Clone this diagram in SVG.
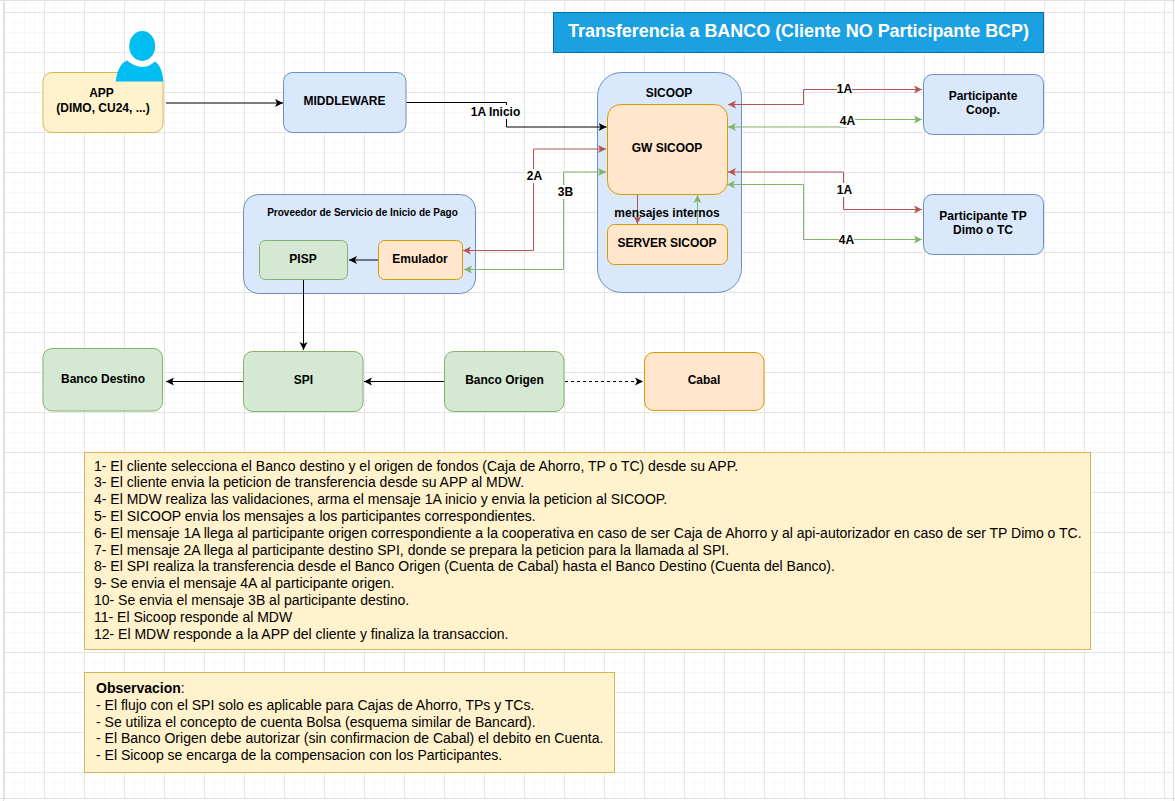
<svg xmlns="http://www.w3.org/2000/svg" width="1175" height="801" viewBox="0 0 1175 801">
<style>
text{font-family:"Liberation Sans",Arial,sans-serif;fill:#000}
.n{font-size:12px;font-weight:bold;text-anchor:middle}
.l{font-size:12px;font-weight:bold;text-anchor:middle}
.t{font-size:14px}
.bg{fill:#fff}
.blue{fill:#dae8fc;stroke:#6c8ebf}
.yel{fill:#fff2cc;stroke:#d6b656}
.org{fill:#ffe6cc;stroke:#d79b00}
.grn{fill:#d5e8d4;stroke:#82b366}
.c{fill:none;stroke-width:1}
.k{stroke:#000;marker-end:url(#ak)}
.r{stroke:#b85450;marker-end:url(#ar);marker-start:url(#ars)}
.g{stroke:#82b366;marker-end:url(#ag);marker-start:url(#ags)}
</style>
<defs>
<pattern id="minor" width="10" height="10" patternUnits="userSpaceOnUse" x="4" y="2"><path d="M.5 0V10M0 .5H10" fill="none" stroke="#f8f8f8"/></pattern>
<pattern id="major" width="40" height="40" patternUnits="userSpaceOnUse" x="4" y="12"><path d="M.5 0V40M0 .5H40" fill="none" stroke="#e6e6e6"/></pattern>
<marker id="ak" markerUnits="userSpaceOnUse" markerWidth="10" markerHeight="10" refX="8" refY="5" orient="auto"><path d="M0 1 8 5 0 9 2 5Z" fill="#000"/></marker>
<marker id="ar" markerUnits="userSpaceOnUse" markerWidth="10" markerHeight="10" refX="8" refY="5" orient="auto"><path d="M0 1 8 5 0 9 2 5Z" fill="#b85450"/></marker>
<marker id="ag" markerUnits="userSpaceOnUse" markerWidth="10" markerHeight="10" refX="8" refY="5" orient="auto"><path d="M0 1 8 5 0 9 2 5Z" fill="#82b366"/></marker>
<marker id="ars" markerUnits="userSpaceOnUse" markerWidth="10" markerHeight="10" refX="0" refY="5" orient="auto"><path d="M8 1 0 5 8 9 6 5Z" fill="#b85450"/></marker>
<marker id="ags" markerUnits="userSpaceOnUse" markerWidth="10" markerHeight="10" refX="0" refY="5" orient="auto"><path d="M8 1 0 5 8 9 6 5Z" fill="#82b366"/></marker>
</defs>
<rect width="1175" height="801" fill="#fff"/>
<rect x="4" y="2" width="1169" height="796" fill="url(#minor)"/>
<rect x="4" y="2" width="1169" height="796" fill="url(#major)"/>
<path d="M0 .5H1175M3.5 0V801M0 798.500H1175M1173.500 0V801" fill="none" stroke="#e0e0e0"/>

<g id="title"><rect x="553.500" y="12.500" width="490" height="40" fill="#1ba1e2" stroke="#006eaf"/><text x="798.500" y="36.500" font-size="18" font-weight="bold" text-anchor="middle" textLength="461" style="fill:#fff">Transferencia a BANCO (Cliente NO Participante BCP)</text></g>

<g id="sicoop"><rect class="blue" x="597.500" y="72.500" width="144" height="220" rx="24"/><text class="n" x="669" y="96.500">SICOOP</text></g>
<g id="proveedor"><rect class="blue" x="243.500" y="194.500" width="232" height="99" rx="15"/><text x="362.500" y="216" font-size="10" font-weight="bold" text-anchor="middle">Proveedor de Servicio de Inicio de Pago</text></g>

<g id="connectors">
<path class="c k" d="M166 103H283"/>
<path class="c k" d="M406.500 102.500H506.500V127H606.500"/>
<path class="c r" d="M463 250.500H533.500V149H606"/>
<path class="c g" d="M464 269.500H563.500V172H606"/>
<path class="c r" d="M728 104.500H803.500V89.500H922"/>
<path class="c g" d="M728 127H847V119.500H922"/>
<path class="c r" d="M728 172H843.500V209.500H922"/>
<path class="c g" d="M727 184.500H803.500V239.500H922"/>
<path class="c" stroke="#b85450" marker-end="url(#ar)" d="M637.500 194.500V224"/>
<path class="c" stroke="#82b366" marker-end="url(#ag)" d="M697.500 224V195"/>
<path class="c k" d="M378 260H349"/>
<path class="c k" d="M303.500 280V350"/>
<path class="c k" d="M243 381.500H166"/>
<path class="c k" d="M444 381.500H364"/>
<path class="c k" stroke-dasharray="3 3" d="M565 381.500H643"/>
</g>
<g id="edge-labels">
<rect class="bg" x="469" y="105" width="53" height="14"/><text class="l" x="495.500" y="116">1A Inicio</text>
<rect class="bg" x="526" y="169" width="16" height="14"/><text class="l" x="534.500" y="180">2A</text>
<rect class="bg" x="557" y="185" width="16" height="14"/><text class="l" x="565.500" y="196">3B</text>
<rect class="bg" x="837" y="82" width="15" height="14"/><text class="l" x="844.500" y="93">1A</text>
<rect class="bg" x="840" y="113" width="15" height="14"/><text class="l" x="847.500" y="125">4A</text>
<rect class="bg" x="837" y="183" width="15" height="14"/><text class="l" x="844.500" y="194">1A</text>
<rect class="bg" x="839" y="233" width="15" height="14"/><text class="l" x="846.500" y="244">4A</text>
<text class="l" x="667" y="217">mensajes internos</text>
</g>

<g id="app"><rect class="yel" x="43" y="72.500" width="120" height="60" rx="9"/><text class="n" x="101.500" y="97">APP</text><text class="n" x="103" y="112">(DIMO, CU24, ...)</text></g>
<g id="user"><ellipse cx="142.200" cy="46" rx="13" ry="15" fill="#00bef2"/><path d="M115.700 81.500C117 72 120 63 127 60.500Q142 73 155 61.500C160 65 163 72 163.300 81.500Z" fill="#00bef2"/></g>
<g id="middleware"><rect class="blue" x="283.500" y="72.500" width="122.500" height="60" rx="9"/><text class="n" x="344.500" y="105">MIDDLEWARE</text></g>
<g id="gw-sicoop"><rect class="org" x="607.500" y="104.500" width="120" height="90" rx="13"/><text class="n" x="667" y="151.500">GW SICOOP</text></g>
<g id="server-sicoop"><rect class="org" x="607.500" y="224.500" width="120" height="40" rx="7"/><text class="n" x="667" y="246.500">SERVER SICOOP</text></g>
<g id="part-coop"><rect class="blue" x="923.500" y="74.500" width="120" height="60" rx="9"/><text class="n" x="983" y="100">Participante</text><text class="n" x="983" y="114">Coop.</text></g>
<g id="part-tp"><rect class="blue" x="923.500" y="194.500" width="120" height="60" rx="9"/><text class="n" x="983" y="220">Participante TP</text><text class="n" x="983" y="234">Dimo o TC</text></g>
<g id="pisp"><rect class="grn" x="259.500" y="240.500" width="88" height="39" rx="6"/><text class="n" x="303" y="262.500">PISP</text></g>
<g id="emulador"><rect class="org" x="378.500" y="240.500" width="84" height="39" rx="6"/><text class="n" x="420" y="262.500">Emulador</text></g>
<g id="banco-destino"><rect class="grn" x="43" y="348.500" width="119.500" height="62.500" rx="9"/><text class="n" x="103" y="383">Banco Destino</text></g>
<g id="spi"><rect class="grn" x="243.500" y="351.500" width="119.500" height="60" rx="9"/><text class="n" x="303.500" y="384">SPI</text></g>
<g id="banco-origen"><rect class="grn" x="444.500" y="351.500" width="119.500" height="60" rx="9"/><text class="n" x="504.500" y="384">Banco Origen</text></g>
<g id="cabal"><rect class="org" x="644.500" y="352.500" width="119.500" height="58" rx="9"/><text class="n" x="704" y="384">Cabal</text></g>

<g id="notes"><rect class="yel" x="84.500" y="452.500" width="1006" height="197"/>
<text class="t" x="94" y="470.500">1- El cliente selecciona el Banco destino y el origen de fondos (Caja de Ahorro, TP o TC) desde su APP.</text>
<text class="t" x="94" y="487.300">3- El cliente envia la peticion de transferencia desde su APP al MDW.</text>
<text class="t" x="94" y="504.100">4- El MDW realiza las validaciones, arma el mensaje 1A inicio y envia la peticion al SICOOP.</text>
<text class="t" x="94" y="520.900">5- El SICOOP envia los mensajes a los participantes correspondientes.</text>
<text class="t" x="94" y="537.700">6- El mensaje 1A llega al participante origen correspondiente a la cooperativa en caso de ser Caja de Ahorro y al api-autorizador en caso de ser TP Dimo o TC.</text>
<text class="t" x="94" y="554.500">7- El mensaje 2A llega al participante destino SPI, donde se prepara la peticion para la llamada al SPI.</text>
<text class="t" x="94" y="571.300">8- El SPI realiza la transferencia desde el Banco Origen (Cuenta de Cabal) hasta el Banco Destino (Cuenta del Banco).</text>
<text class="t" x="94" y="588.100">9- Se envia el mensaje 4A al participante origen.</text>
<text class="t" x="94" y="604.900">10- Se envia el mensaje 3B al participante destino.</text>
<text class="t" x="94" y="621.700">11- El Sicoop responde al MDW</text>
<text class="t" x="94" y="638.500">12- El MDW responde a la APP del cliente y finaliza la transaccion.</text>
</g>
<g id="observacion"><rect class="yel" x="84.500" y="672.500" width="530" height="100"/>
<text class="t" x="96" y="693"><tspan font-weight="bold">Observacion</tspan>:</text>
<text class="t" x="96" y="710">- El flujo con el SPI solo es aplicable para Cajas de Ahorro, TPs y TCs.</text>
<text class="t" x="96" y="727">- Se utiliza el concepto de cuenta Bolsa (esquema similar de Bancard).</text>
<text class="t" x="96" y="743">- El Banco Origen debe autorizar (sin confirmacion de Cabal) el debito en Cuenta.</text>
<text class="t" x="96" y="760">- El Sicoop se encarga de la compensacion con los Participantes.</text>
</g>
</svg>
